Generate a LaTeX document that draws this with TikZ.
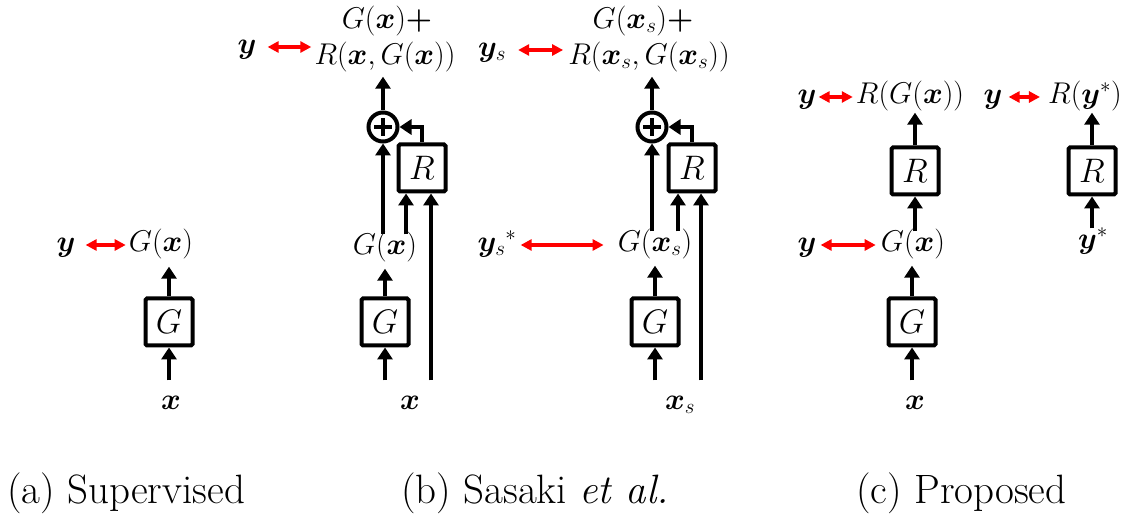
\RequirePackage{fix-cm}
\documentclass[tikz,border=0pt]{standalone}
\usepackage{amsmath,bm}
\usetikzlibrary{arrows.meta}
\tikzset{
 lab/.style={inner xsep=0pt, inner ysep=0pt, text height=20pt, text depth=7pt, font=\fontsize{30}{34}\selectfont},
 blk/.style={draw, line width=4pt, minimum width=47pt, minimum height=47pt, inner sep=0pt, font=\fontsize{34}{40}\selectfont, rounded corners=1.5pt},
 plusc/.style={draw, circle, line width=4pt, minimum size=29pt, inner sep=0pt},
 arr/.style={line width=4pt, -{Triangle[width=15pt,length=12pt]}},
 wire/.style={line width=3.5pt},
 redarr/.style={draw=red, line width=3.5pt, {Triangle[width=11pt,length=11pt]}-{Triangle[width=11pt,length=11pt]}},
 captext/.style={font=\rmfamily\fontsize{41}{46}\selectfont, anchor=west, inner sep=0pt}
}
\begin{document}
\begin{tikzpicture}[x=1pt,y=-1pt]
\useasboundingbox (0,0) rectangle (1133,518);
% ---------- (a)
\node[lab] (ya) at (66,245) {$\bm{y}$};
\node[lab] (Gxa) at (161,245) {$G(\bm{x})$};
\node[blk] (Ga) at (169,322) {$G$};
\node[lab] (xa) at (171,403) {$\bm{x}$};
\draw[redarr, shorten <=10pt, shorten >=3pt] (ya) -- (Gxa);
\draw[arr, shorten >=8pt] (Ga.north) -- (Ga |- Gxa.south);
\draw[arr, shorten <=9pt] (Ga |- xa.north) -- (Ga.south);
% ---------- (b) left
\node[lab] (yb) at (247,47) {$\bm{y}$};
\node[lab] (t1b) at (387,22) {$G(\bm{x})\bm{+}$};
\node[lab] (t2b) at (385,58) {$R(\bm{x},G(\bm{x}))$};
\node[plusc] (pb) at (383,127) {};
\node[blk] (Rb) at (422,168) {$R$};
\node[lab] (Gxb) at (385,248) {$G(\bm{x})$};
\node[blk] (Gb) at (385,322) {$G$};
\node[lab] (xb) at (410,403) {$\bm{x}$};
\draw[wire] ([xshift=-9pt]pb.center) -- ([xshift=9pt]pb.center);
\draw[wire] ([yshift=-9pt]pb.center) -- ([yshift=9pt]pb.center);
\draw[redarr, shorten <=11pt, shorten >=3pt] (yb.east) -- (yb.east -| t2b.west);
\draw[arr, shorten >=5pt] (pb.north) -- (pb.north |- t2b.south);
\draw[arr] (pb |- Gxb.north) -- (pb.south);
\draw[arr] ([xshift=-16pt]Rb.south |- Gxb.north) -- ([xshift=-16pt]Rb.south);
\draw[arr, shorten <=9pt] ([xshift=9pt]Rb.south |- xb.north) -- ([xshift=9pt]Rb.south);
\draw[arr] (Rb.north) |- (pb.east);
\draw[arr, shorten >=7pt] (Gb.north) -- (Gb |- Gxb.south);
\draw[arr, shorten <=9pt] (Gb |- xb.north) -- (Gb.south);
% ---------- (b) right
\node[lab] (ys) at (492,50) {$\bm{y}_s$};
\node[lab] (t1s) at (643,22) {$G(\bm{x}_s)\bm{+}$};
\node[lab] (t2s) at (649,58) {$R(\bm{x}_s,G(\bm{x}_s))$};
\node[plusc] (ps) at (652,127) {};
\node[blk] (Rs) at (692,168) {$R$};
\node[lab] (yss) at (497,245) {$\bm{y}_s{}^*$};
\node[lab] (Gxs) at (655,245) {$G(\bm{x}_s)$};
\node[blk] (Gs) at (655,322) {$G$};
\node[lab] (xs) at (680,403) {$\bm{x}_s$};
\draw[wire] ([xshift=-9pt]ps.center) -- ([xshift=9pt]ps.center);
\draw[wire] ([yshift=-9pt]ps.center) -- ([yshift=9pt]ps.center);
\draw[redarr, shorten <=12pt, shorten >=5pt] (ys.east) -- (ys.east -| t2s.west);
\draw[redarr, shorten <=4pt, shorten >=14pt] (yss.east) -- (Gxs.west);
\draw[arr, shorten >=5pt] (ps.north) -- (ps.north |- t2s.south);
\draw[arr] (ps |- Gxs.north) -- (ps.south);
\draw[arr] ([xshift=-14pt]Rs.south |- Gxs.north) -- ([xshift=-14pt]Rs.south);
\draw[arr, shorten <=9pt] ([xshift=9pt]Rs.south |- xs.north) -- ([xshift=9pt]Rs.south);
\draw[arr] (Rs.north) |- (ps.east);
\draw[arr, shorten >=7pt] (Gs.north) -- (Gs |- Gxs.south);
\draw[arr, shorten <=9pt] (Gs |- xs.north) -- (Gs.south);
% ---------- (c)
\node[lab] (yc1) at (807,97) {$\bm{y}$};
\node[lab] (RGx) at (910,97) {$R(G(\bm{x}))$};
\node[blk] (Rc) at (915,171) {$R$};
\node[lab] (yc2) at (807,245) {$\bm{y}$};
\node[lab] (Gxc) at (913,245) {$G(\bm{x})$};
\node[blk] (Gc) at (912,322) {$G$};
\node[lab] (xc) at (915,403) {$\bm{x}$};
\node[lab] (yc3) at (993,97) {$\bm{y}$};
\node[lab] (Ry) at (1085,97) {$R(\bm{y}^*)$};
\node[blk] (Rd) at (1092,171) {$R$};
\node[lab] (ystar) at (1093,242) {$\bm{y}^*$};
\draw[redarr, shorten <=2pt, shorten >=3pt] (yc1) -- (RGx);
\draw[redarr, shorten <=4pt, shorten >=5pt] (yc2) -- (Gxc);
\draw[redarr, shorten <=6pt, shorten >=8pt] (yc3) -- (Ry);
\draw[arr, shorten >=2pt] (Rc.north) -- (Rc |- RGx.south);
\draw[arr] (Rc |- Gxc.north) -- (Rc.south);
\draw[arr, shorten >=7pt] (Gc.north) -- (Gc |- Gxc.south);
\draw[arr, shorten <=9pt] (Gc |- xc.north) -- (Gc.south);
\draw[arr, shorten >=2pt] (Rd.north) -- (Rd |- Ry.south);
\draw[arr] (Rd |- ystar.north) -- (Rd.south);
% ---------- captions
\node[captext] (ca) at (7,493) {(a) Supervised};
\node[captext] (cb) at (401,493) {(b) Sasaki \textit{et al.}};
\node[captext] (cc) at (856,493) {(c) Proposed};
\end{tikzpicture}
\end{document}
